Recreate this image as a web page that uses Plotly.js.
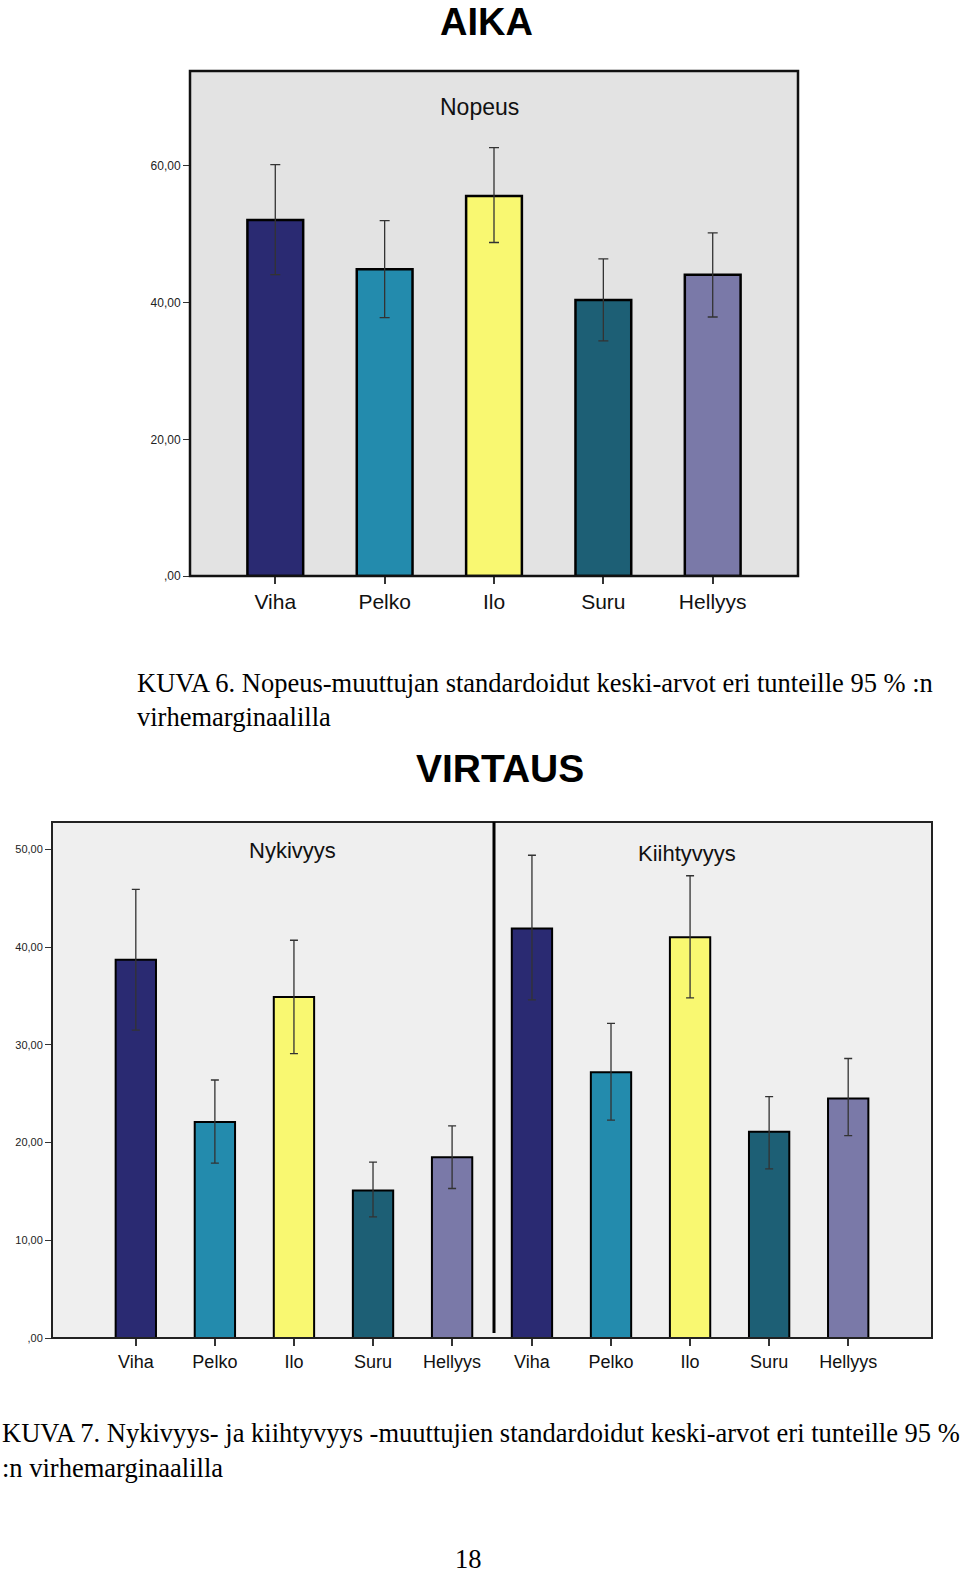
<!DOCTYPE html>
<html>
<head>
<meta charset="utf-8">
<script src="https://cdn.plot.ly/plotly-3.0.1.min.js"></script>
<style>
  html, body { margin: 0; padding: 0; background: #ffffff; }
  #chart { width: 960px; height: 1573px; }
</style>
</head>
<body>
<div id="chart"></div>
<script>
// ---------- DATA ----------
const emotions = ["Viha", "Pelko", "Ilo", "Suru", "Hellyys"];
const barColors = ["#2a2a72", "#238bad", "#f9f871", "#1d5f75", "#7a79a8"];

// AIKA – Nopeus
const nopeusMean = [52.1, 44.9, 55.6, 40.4, 44.1];
const nopeusLow  = [44.1, 37.8, 48.8, 34.4, 37.9];
const nopeusHigh = [60.2, 52.0, 62.7, 46.4, 50.2];

// VIRTAUS – Nykivyys
const nykivyysMean = [38.7, 22.1, 34.9, 15.1, 18.5];
const nykivyysLow  = [31.5, 17.9, 29.1, 12.4, 15.3];
const nykivyysHigh = [45.9, 26.4, 40.7, 18.0, 21.7];

// VIRTAUS – Kiihtyvyys
const kiihtyvyysMean = [41.9, 27.2, 41.0, 21.1, 24.5];
const kiihtyvyysLow  = [34.6, 22.3, 34.8, 17.3, 20.7];
const kiihtyvyysHigh = [49.4, 32.2, 47.3, 24.7, 28.6];

const topTicks = [0, 20, 40, 60];
const topTickText = [",00", "20,00", "40,00", "60,00"];
const bottomTicks = [0, 10, 20, 30, 40, 50];
const bottomTickText = [",00", "10,00", "20,00", "30,00", "40,00", "50,00"];

// ---------- HELPERS ----------
const W = 960, H = 1573;
const px = x => x / W;
const py = y => 1 - y / H;

function barTrace(mean, low, high, xa, ya, lineW, capW) {
  return {
    type: "bar",
    x: emotions,
    y: mean,
    xaxis: xa, yaxis: ya,
    width: 0.51,
    marker: { color: barColors, line: { color: "#000000", width: lineW } },
    error_y: {
      type: "data",
      symmetric: false,
      array: high.map((h, i) => h - mean[i]),
      arrayminus: mean.map((m, i) => m - low[i]),
      color: "#333333",
      thickness: 1.3,
      width: capW
    },
    hoverinfo: "skip",
    showlegend: false
  };
}

const traces = [
  barTrace(nopeusMean, nopeusLow, nopeusHigh, "x", "y", 2.5, 5),
  barTrace(nykivyysMean, nykivyysLow, nykivyysHigh, "x2", "y2", 2, 4),
  barTrace(kiihtyvyysMean, kiihtyvyysLow, kiihtyvyysHigh, "x3", "y2", 2, 4)
];

const sans = "Liberation Sans, Arial, sans-serif";
const serif = "Liberation Serif, Times New Roman, serif";
const capSize = 26.5;

const xCommon = {
  type: "category",
  showgrid: false, zeroline: false, showline: false,
  ticks: "outside", ticklen: 7, tickwidth: 2, tickcolor: "#333333",
  fixedrange: true
};
const yCommon = {
  showgrid: false, zeroline: false, showline: false,
  ticks: "outside", ticklen: 6, tickwidth: 1, tickcolor: "#333333",
  fixedrange: true
};

const layout = {
  width: W, height: H,
  margin: { l: 0, r: 0, t: 0, b: 0 },
  paper_bgcolor: "#ffffff",
  plot_bgcolor: "rgba(0,0,0,0)",
  bargap: 0.49,
  xaxis: Object.assign({}, xCommon, {
    domain: [px(190), px(798)], anchor: "y",
    range: [-0.78, 4.78],
    tickfont: { family: sans, size: 21, color: "#111111" }
  }),
  yaxis: Object.assign({}, yCommon, {
    domain: [py(576), py(71)], anchor: "x",
    range: [0, 73.9],
    tickvals: topTicks, ticktext: topTickText,
    tickfont: { family: sans, size: 12, color: "#222222" }
  }),
  xaxis2: Object.assign({}, xCommon, {
    domain: [px(52), px(494)], anchor: "y2",
    range: [-1.06, 4.53],
    tickfont: { family: sans, size: 18, color: "#111111" }
  }),
  xaxis3: Object.assign({}, xCommon, {
    domain: [px(494), px(932)], anchor: "y2",
    range: [-0.48, 5.06],
    tickfont: { family: sans, size: 18, color: "#111111" }
  }),
  yaxis2: Object.assign({}, yCommon, {
    domain: [py(1338), py(822)], anchor: "x2",
    range: [0, 52.8],
    tickvals: bottomTicks, ticktext: bottomTickText,
    tickfont: { family: sans, size: 11, color: "#222222" }
  }),
  shapes: [
    // backgrounds
    { type: "rect", xref: "paper", yref: "paper", layer: "below",
      x0: px(190), x1: px(798), y0: py(576), y1: py(71),
      fillcolor: "#e3e3e3", line: { width: 0 } },
    { type: "rect", xref: "paper", yref: "paper", layer: "below",
      x0: px(52), x1: px(932), y0: py(1338), y1: py(822),
      fillcolor: "#efefef", line: { width: 0 } },
    // borders
    { type: "rect", xref: "paper", yref: "paper", layer: "above",
      x0: px(190), x1: px(798), y0: py(576), y1: py(71),
      fillcolor: "rgba(0,0,0,0)", line: { color: "#111111", width: 2.5 } },
    { type: "rect", xref: "paper", yref: "paper", layer: "above",
      x0: px(52), x1: px(932), y0: py(1338), y1: py(822),
      fillcolor: "rgba(0,0,0,0)", line: { color: "#222222", width: 2 } },
    // panel divider
    { type: "line", xref: "paper", yref: "paper", layer: "above",
      x0: px(494), x1: px(494), y0: py(1333), y1: py(822),
      line: { color: "#000000", width: 3 } }
  ],
  annotations: [
    { text: "<b>AIKA</b>", xref: "paper", yref: "paper", x: px(486), y: py(0),
      xanchor: "center", yanchor: "top", showarrow: false, borderpad: 0,
      font: { family: sans, size: 38, color: "#000000" } },
    { text: "Nopeus", xref: "paper", yref: "paper", x: px(479), y: py(107),
      xanchor: "center", yanchor: "middle", showarrow: false,
      font: { family: sans, size: 23, color: "#111111" } },
    { text: "KUVA 6. Nopeus-muuttujan standardoidut keski-arvot eri tunteille 95 % :n",
      xref: "paper", yref: "paper", x: px(135), y: py(683),
      xanchor: "left", yanchor: "middle", showarrow: false,
      font: { family: serif, size: capSize, color: "#000000" } },
    { text: "virhemarginaalilla",
      xref: "paper", yref: "paper", x: px(135), y: py(717),
      xanchor: "left", yanchor: "middle", showarrow: false,
      font: { family: serif, size: capSize, color: "#000000" } },
    { text: "<b>VIRTAUS</b>", xref: "paper", yref: "paper", x: px(500), y: py(768),
      xanchor: "center", yanchor: "middle", showarrow: false,
      font: { family: sans, size: 39, color: "#000000" } },
    { text: "Nykivyys", xref: "paper", yref: "paper", x: px(292), y: py(851),
      xanchor: "center", yanchor: "middle", showarrow: false,
      font: { family: sans, size: 22, color: "#111111" } },
    { text: "Kiihtyvyys", xref: "paper", yref: "paper", x: px(687), y: py(853),
      xanchor: "center", yanchor: "middle", showarrow: false,
      font: { family: sans, size: 22, color: "#111111" } },
    { text: "KUVA 7. Nykivyys- ja kiihtyvyys -muuttujien standardoidut keski-arvot eri tunteille 95 %",
      xref: "paper", yref: "paper", x: px(0), y: py(1433),
      xanchor: "left", yanchor: "middle", showarrow: false,
      font: { family: serif, size: capSize, color: "#000000" } },
    { text: ":n virhemarginaalilla",
      xref: "paper", yref: "paper", x: px(0), y: py(1468),
      xanchor: "left", yanchor: "middle", showarrow: false,
      font: { family: serif, size: capSize, color: "#000000" } },
    { text: "18", xref: "paper", yref: "paper", x: px(468), y: py(1559),
      xanchor: "center", yanchor: "middle", showarrow: false,
      font: { family: serif, size: capSize, color: "#000000" } }
  ]
};

Plotly.newPlot("chart", traces, layout, { staticPlot: true, displayModeBar: false });
</script>
</body>
</html>
